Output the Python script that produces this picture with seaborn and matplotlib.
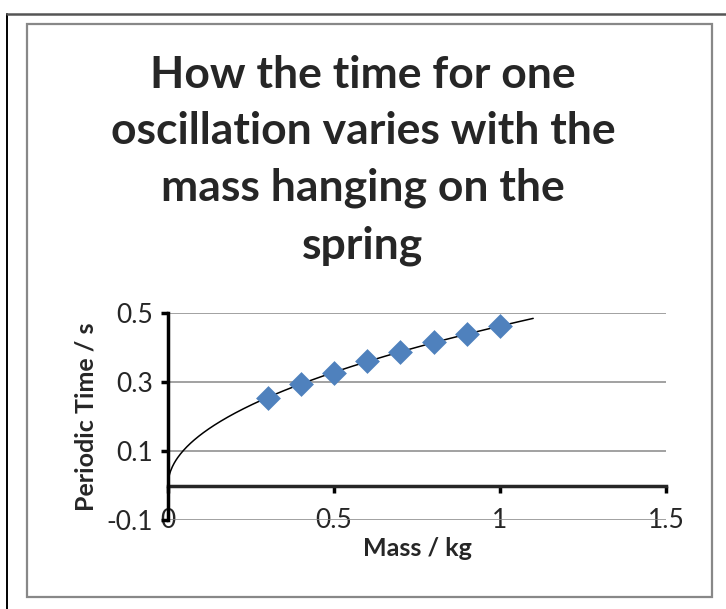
import numpy as np
import pandas as pd
import matplotlib
matplotlib.use("Agg")
import matplotlib.pyplot as plt
from matplotlib.patches import Rectangle
from matplotlib.lines import Line2D
import seaborn as sns

# data
mass = [0.3, 0.4, 0.5, 0.6, 0.7, 0.8, 0.9, 1.0]
period = [0.255, 0.295, 0.326, 0.361, 0.386, 0.416, 0.439, 0.461]
x_ticks = [0, 0.5, 1, 1.5]
x_tick_labels = ["0", "0.5", "1", "1.5"]
y_ticks = [-0.1, 0.1, 0.3, 0.5]
y_tick_labels = ["-0.1", "0.1", "0.3", "0.5"]
title = "How the time for one\noscillation varies with the\nmass hanging on the\nspring"

df = pd.DataFrame({"Mass": mass, "Period": period})

# power trendline like excel
b, log_a = np.polyfit(np.log(df["Mass"]), np.log(df["Period"]), 1)
x_fit = np.linspace(0.002, 1.1, 400)
trend = pd.DataFrame({"Mass": x_fit, "Period": np.exp(log_a) * x_fit ** b})

sns.set_style("white")
plt.rcParams["font.family"] = ["Lato", "DejaVu Sans"]

W, H = 726, 609
fig = plt.figure(figsize=(W / 100, H / 100), dpi=100)
ax = fig.add_axes([168 / W, 1 - 520 / H, 498 / W, 207 / H])

ax.set_xlim(0, 1.5)
ax.set_ylim(-0.1, 0.5)
ax.set_yticks(y_ticks)
ax.set_yticklabels(y_tick_labels)
ax.set_xticks(x_ticks)
ax.set_xticklabels(x_tick_labels)
ax.grid(axis="y", color="#888888", linewidth=1.1)
ax.grid(axis="x", visible=False)
ax.set_axisbelow(True)

sns.lineplot(data=trend, x="Mass", y="Period", color="black", linewidth=1.1, ax=ax, zorder=3)
sns.scatterplot(data=df, x="Mass", y="Period", marker="D", s=160, color="#4F81BD",
                edgecolor="#4F81BD", linewidth=0, ax=ax, zorder=4)

for side in ["top", "right", "bottom"]:
    ax.spines[side].set_visible(False)
ax.spines["left"].set_linewidth(2.5)
ax.spines["left"].set_color("black")
ax.tick_params(axis="y", direction="out", length=5, width=2.5, color="black",
               labelsize=19, pad=6, left=True)
ax.tick_params(axis="x", length=0, labelsize=19, pad=-9)

# x axis line crossing at y = 0
sec = ax.secondary_xaxis(1 / 6)
sec.set_xticks(x_ticks)
sec.set_xticklabels([])
sec.spines["bottom"].set_linewidth(2.5)
sec.tick_params(direction="out", length=5, width=2.5, color="black")

ax.set_xlabel("Mass / kg", fontsize=18, fontweight="bold", labelpad=3)
ax.set_ylabel("Periodic Time / s", fontsize=18, fontweight="bold", labelpad=6)

fig.text(0.5, 1 - 55 / H, title, ha="center", va="top", fontsize=32,
         fontweight="bold", linespacing=1.5)

# chart area border and outer frame
fig.patches.append(Rectangle((27 / W, 1 - 597 / H), 685 / W, 573 / H, transform=fig.transFigure,
                             fill=False, edgecolor="#888888", linewidth=1.6))
fig.lines.append(Line2D([7 / W, 7 / W], [0, 1 - 14 / H], transform=fig.transFigure,
                        color="black", linewidth=1.4))
fig.lines.append(Line2D([7 / W, 1], [1 - 14 / H, 1 - 14 / H], transform=fig.transFigure,
                        color="#555555", linewidth=1.8))

fig.savefig("out.png", dpi=100)
